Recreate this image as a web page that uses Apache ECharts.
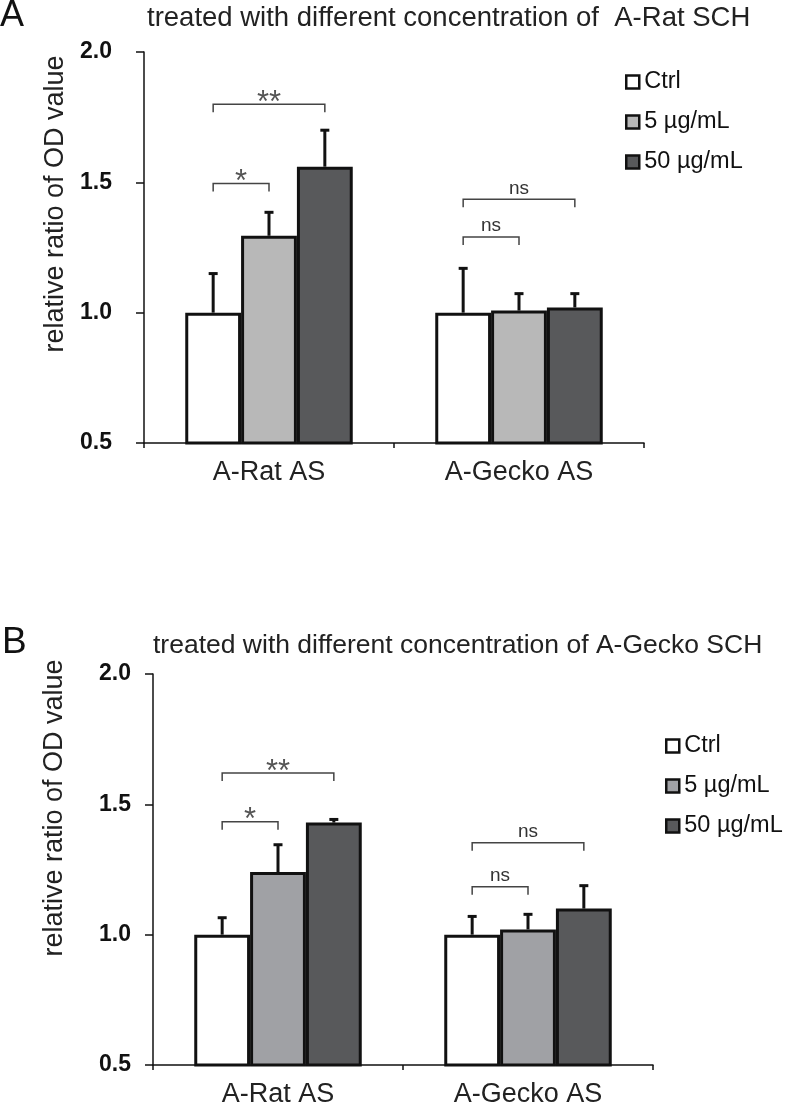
<!DOCTYPE html>
<html>
<head>
<meta charset="utf-8">
<script src="https://cdn.jsdelivr.net/npm/echarts@6/dist/echarts.min.js"></script>
<style>
html,body{margin:0;padding:0;background:#fff;}
#chart{width:787px;height:1112px;}
</style>
</head>
<body>
<div id="chart"></div>
<script>
// ---------- data ----------
const categories = ['A-Rat AS', 'A-Gecko AS'];
const seriesNames = ['Ctrl', '5 µg/mL', '50 µg/mL'];
const yTicks = [0.5, 1.0, 1.5, 2.0];

// Panel A : treated with A-Rat SCH
const A_ctrl = [1.00, 1.00];
const A_5 = [1.295, 1.008];
const A_50 = [1.56, 1.02];
const A_ctrl_err = [0.15, 0.17];
const A_5_err = [0.09, 0.065];
const A_50_err = [0.14, 0.053];

// Panel B : treated with A-Gecko SCH
const B_ctrl = [1.00, 1.00];
const B_5 = [1.24, 1.02];
const B_50 = [1.43, 1.10];
const B_ctrl_err = [0.065, 0.07];
const B_5_err = [0.105, 0.058];
const B_50_err = [0.012, 0.088];

// significance brackets: category, from bar, to bar, height, label
const A_sigCat = [0, 0, 1, 1];
const A_sigFrom = [0, 0, 0, 0];
const A_sigTo = [1, 2, 1, 2];
const A_sigY = [1.496, 1.80, 1.29, 1.435];
const A_sigLabel = ['*', '**', 'ns', 'ns'];

const B_sigCat = [0, 0, 1, 1];
const B_sigFrom = [0, 0, 0, 0];
const B_sigTo = [1, 2, 1, 2];
const B_sigY = [1.433, 1.62, 1.184, 1.353];
const B_sigLabel = ['*', '**', 'ns', 'ns'];

const titleA = 'treated with different concentration of  A-Rat SCH';
const titleB = 'treated with different concentration of A-Gecko SCH';
const yTitle = 'relative ratio of OD value';

// ---------- styling ----------
const FONT = '"Liberation Sans", Arial, Helvetica, sans-serif';
const BAR_GAP = 0.33;
const colorsA = ['#ffffff', '#b8b8b8', '#58595b'];
const colorsB = ['#ffffff', '#a0a1a5', '#58595b'];

function errData(means, errs) {
  const out = [];
  for (let c = 0; c < categories.length; c++) {
    for (let s = 0; s < means.length; s++) {
      out.push([c, s, means[s][c], errs[s][c]]);
    }
  }
  return out;
}
function errRender(params, api) {
  const cat = api.value(0), bi = api.value(1), v = api.value(2), e = api.value(3);
  const band = api.size([1, 0])[0];
  const bw = band * (1 - BAR_GAP) / 3;
  const base = api.coord([cat, v]);
  const top = api.coord([cat, v + e]);
  const x = base[0] + (bi - 1) * bw;
  return {
    type: 'group',
    children: [
      {type: 'line', shape: {x1: x, y1: base[1], x2: x, y2: top[1]}, style: {stroke: '#111', lineWidth: 3}},
      {type: 'line', shape: {x1: x - 4.5, y1: top[1], x2: x + 4.5, y2: top[1]}, style: {stroke: '#111', lineWidth: 3}}
    ]
  };
}
function sigData(cat, from, to, y) {
  return cat.map((c, i) => [c, from[i], to[i], y[i]]);
}
function makeSigRender(labels) {
  return function (params, api) {
    const cat = api.value(0), f = api.value(1), t = api.value(2), yv = api.value(3);
    const band = api.size([1, 0])[0];
    const bw = band * (1 - BAR_GAP) / 3;
    const p = api.coord([cat, yv]);
    const x1 = p[0] + (f - 1) * bw, x2 = p[0] + (t - 1) * bw, y = p[1];
    const lab = labels[params.dataIndex];
    const star = lab.indexOf('*') >= 0;
    return {
      type: 'group',
      children: [
        {type: 'polyline', shape: {points: [[x1, y + 8], [x1, y], [x2, y], [x2, y + 8]]},
         style: {stroke: '#444', lineWidth: 1.5, fill: null}},
        {type: 'text', x: (x1 + x2) / 2, y: star ? y - 1 : y - 11,
         style: {text: lab, fill: star ? '#555' : '#333',
                 fontSize: star ? 31 : 19, fontFamily: FONT, align: 'center', verticalAlign: 'middle'}}
      ]
    };
  };
}

function barSeries(names, data, colors, axisIdx) {
  return names.map((n, i) => ({
    type: 'bar', name: n, xAxisIndex: axisIdx, yAxisIndex: axisIdx,
    data: data[i], barGap: '0%', barCategoryGap: (BAR_GAP * 100) + '%',
    itemStyle: {color: colors[i], borderColor: '#111', borderWidth: 3},
    emphasis: {disabled: true}, animation: false
  }));
}

function yAxisCfg(gi, margin) {
  return {
    type: 'value', gridIndex: gi, min: yTicks[0], max: yTicks[yTicks.length - 1], interval: 0.5,
    axisLine: {show: true, lineStyle: {color: '#111', width: 1.5}},
    axisTick: {show: true, length: 8, lineStyle: {color: '#111', width: 1.5}},
    splitLine: {show: false},
    axisLabel: {formatter: v => v.toFixed(1), fontSize: 23, fontWeight: 'bold', color: '#111',
                fontFamily: FONT, margin: margin}
  };
}
function xAxisCfg(gi) {
  return {
    type: 'category', gridIndex: gi, data: categories,
    axisLine: {show: true, lineStyle: {color: '#111', width: 1.5}},
    axisTick: {show: true, length: 5, lineStyle: {color: '#111', width: 1.5}},
    axisLabel: {fontSize: 27, color: '#222', fontFamily: FONT, margin: 16}
  };
}
function legendCfg(left, top, colors) {
  return {
    orient: 'vertical', left: left, top: top, padding: 0, itemGap: 16,
    itemWidth: 13, itemHeight: 13, icon: 'rect', selectedMode: false,
    textStyle: {fontSize: 23.5, color: '#111', fontFamily: FONT},
    itemStyle: {borderColor: '#111', borderWidth: 2.5},
    data: seriesNames.map((n, i) => ({name: n, itemStyle: {color: colors[i], borderColor: '#111', borderWidth: 2.5}}))
  };
}

const chart = echarts.init(document.getElementById('chart'), null, {renderer: 'canvas'});
chart.setOption({
  backgroundColor: '#fff',
  animation: false,
  textStyle: {fontFamily: FONT},
  grid: [
    {left: 144, right: 143, top: 52, bottom: 669, outerBoundsMode: 'none', containLabel: false},
    {left: 153, right: 134, top: 674, bottom: 47, outerBoundsMode: 'none', containLabel: false}
  ],
  xAxis: [xAxisCfg(0), xAxisCfg(1)],
  yAxis: [yAxisCfg(0, 32), yAxisCfg(1, 22)],
  legend: [legendCfg(625, 70, colorsA), legendCfg(665, 734, colorsB)],
  series: [
    ...barSeries(seriesNames, [A_ctrl, A_5, A_50], colorsA, 0),
    ...barSeries(seriesNames, [B_ctrl, B_5, B_50], colorsB, 1),
    {type: 'custom', xAxisIndex: 0, yAxisIndex: 0, renderItem: errRender,
     encode: {x: 0, y: 2}, data: errData([A_ctrl, A_5, A_50], [A_ctrl_err, A_5_err, A_50_err]), z: 5},
    {type: 'custom', xAxisIndex: 1, yAxisIndex: 1, renderItem: errRender,
     encode: {x: 0, y: 2}, data: errData([B_ctrl, B_5, B_50], [B_ctrl_err, B_5_err, B_50_err]), z: 5},
    {type: 'custom', xAxisIndex: 0, yAxisIndex: 0, renderItem: makeSigRender(A_sigLabel),
     encode: {x: 0, y: 3}, data: sigData(A_sigCat, A_sigFrom, A_sigTo, A_sigY), z: 6},
    {type: 'custom', xAxisIndex: 1, yAxisIndex: 1, renderItem: makeSigRender(B_sigLabel),
     encode: {x: 0, y: 3}, data: sigData(B_sigCat, B_sigFrom, B_sigTo, B_sigY), z: 6}
  ],
  graphic: [
    {type: 'text', x: 0, y: 16, style: {text: 'A', fontSize: 36, fontFamily: FONT, fill: '#111', align: 'left', verticalAlign: 'middle'}},
    {type: 'text', x: 2, y: 643, style: {text: 'B', fontSize: 37, fontFamily: FONT, fill: '#111', align: 'left', verticalAlign: 'middle'}},
    {type: 'text', x: 147, y: 18, style: {text: titleA, fontSize: 27.5, fontFamily: FONT, fill: '#222', align: 'left', verticalAlign: 'middle'}},
    {type: 'text', x: 153, y: 646, style: {text: titleB, fontSize: 26.5, fontFamily: FONT, fill: '#222', align: 'left', verticalAlign: 'middle'}},
    {type: 'text', x: 56, y: 204, rotation: Math.PI / 2, style: {text: yTitle, fontSize: 27, fontFamily: FONT, fill: '#222', align: 'center', verticalAlign: 'middle'}},
    {type: 'text', x: 55, y: 808, rotation: Math.PI / 2, style: {text: yTitle, fontSize: 27, fontFamily: FONT, fill: '#222', align: 'center', verticalAlign: 'middle'}}
  ]
});
</script>
</body>
</html>
